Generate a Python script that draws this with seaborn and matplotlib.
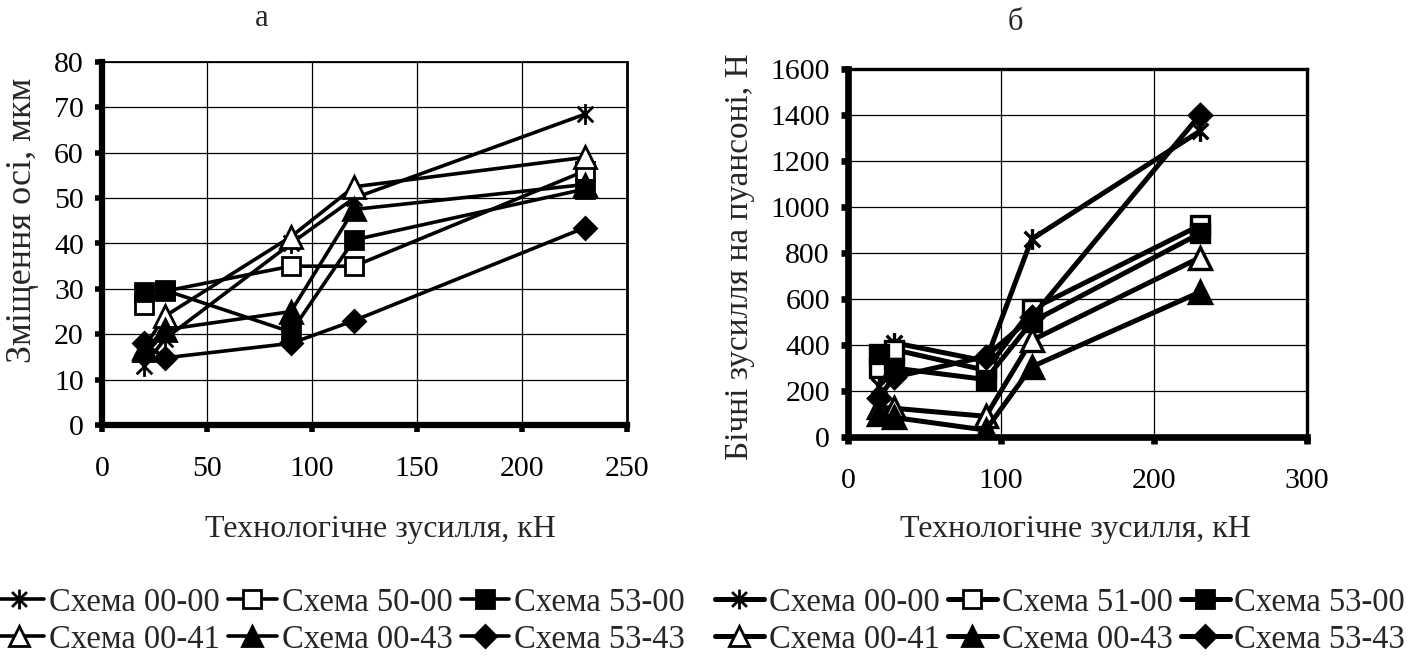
import matplotlib
matplotlib.use("Agg")
import matplotlib.pyplot as plt
import seaborn as sns
import numpy as np
from matplotlib.path import Path
from matplotlib.lines import Line2D

# ---------------- data ----------------
force_kn = [20, 30, 90, 120, 230]

labels_a = ["Схема 00-00", "Схема 50-00", "Схема 53-00",
            "Схема 00-41", "Схема 00-43", "Схема 53-43"]
labels_b = ["Схема 00-00", "Схема 51-00", "Схема 53-00",
            "Схема 00-41", "Схема 00-43", "Схема 53-43"]

# panel a: displacement of axis, um
a_00_00 = [13, 19, 40, 50, 68.5]
a_50_00 = [26.5, 29.5, 35, 35, 56]
a_53_00 = [29.3, 29.7, 20.5, 40.8, 52]
a_00_41 = [17, 24, 41.5, 52.5, 59]
a_00_43 = [16.5, 21, 25, 47.5, 53]
a_53_43 = [18, 14.8, 18, 23, 43.5]

# panel b: lateral forces on punch, N
b_00_00 = [220, 410, 330, 860, 1330]
b_51_00 = [300, 380, 290, 555, 920]
b_53_00 = [360, 300, 250, 500, 885]
b_00_41 = [130, 125, 90, 420, 780]
b_00_43 = [100, 85, 30, 305, 630]
b_53_43 = [170, 260, 350, 520, 1400]

xticks_a = [0, 50, 100, 150, 200, 250]
yticks_a = [0, 10, 20, 30, 40, 50, 60, 70, 80]
xticks_b = [0, 100, 200, 300]
yticks_b = [0, 200, 400, 600, 800, 1000, 1200, 1400, 1600]

title_a = "а"
title_b = "б"
xlabel = "Технологічне зусилля, кН"
ylabel_a = "Зміщення осі, мкм"
ylabel_b = "Бічні зусилля на пуансоні, Н"

# ---------------- style ----------------
sns.set_theme(style="white")
plt.rcParams['font.family'] = ['Liberation Serif', 'DejaVu Serif']

star = Path([(0, -1), (0, 1), (-0.75, -0.75), (0.75, 0.75), (-0.75, 0.75), (0.75, -0.75)],
            [Path.MOVETO, Path.LINETO, Path.MOVETO, Path.LINETO, Path.MOVETO, Path.LINETO])

styles = [
    dict(marker=star, mfc='black', ms=15),
    dict(marker='s', mfc='white', ms=13.5),
    dict(marker='s', mfc='black', ms=13.5),
    dict(marker='^', mfc='white', ms=15.5),
    dict(marker='^', mfc='black', ms=15.5),
    dict(marker='D', mfc='black', ms=11.5),
]

fig = plt.figure(figsize=(14.17, 6.58), dpi=100)
W, H = 1417, 658

def axes_px(x0, y0, x1, y1):
    return fig.add_axes([x0 / W, 1 - y1 / H, (x1 - x0) / W, (y1 - y0) / H])

ax_a = axes_px(102, 62, 627, 425)
ax_b = axes_px(848, 69, 1307, 437)

series_a = [a_00_00, a_50_00, a_53_00, a_00_41, a_00_43, a_53_43]
series_b = [b_00_00, b_51_00, b_53_00, b_00_41, b_00_43, b_53_43]

def draw(ax, series, lw, mew):
    for vals, st in zip(series, styles):
        sns.lineplot(x=force_kn, y=vals, ax=ax, color='black', linewidth=lw,
                     marker=st['marker'], markersize=st['ms'],
                     markerfacecolor=st['mfc'], markeredgecolor='black',
                     markeredgewidth=mew, legend=False, zorder=3)

draw(ax_a, series_a, 2.6, 2.0)
draw(ax_b, series_b, 3.6, 2.4)

ax_a.set_xlim(0, 250)
ax_a.set_ylim(0, 80)
ax_a.set_xticks(xticks_a)
ax_a.set_yticks(yticks_a)
ax_b.set_xlim(0, 300)
ax_b.set_ylim(0, 1600)
ax_b.set_xticks(xticks_b)
ax_b.set_yticks(yticks_b)

for ax, thick, thin, tickw in [(ax_a, 4.5, 1.3, 4.0), (ax_b, 4.8, 2.4, 4.8)]:
    ax.grid(True, color='black', linewidth=0.9)
    ax.set_axisbelow(True)
    ax.spines['left'].set_linewidth(thick)
    ax.spines['bottom'].set_linewidth(thick)
    ax.spines['top'].set_linewidth(thin)
    ax.spines['right'].set_linewidth(thin if ax is ax_b else 2.0)
    for s in ax.spines.values():
        s.set_color('black')
    ax.tick_params(axis='both', which='major', direction='out', length=5,
                   width=tickw, color='black', labelsize=21.5, labelcolor='black',
                   left=True, bottom=True)
    ax.tick_params(axis='y', pad=8)
    ax.tick_params(axis='x', pad=17)
    ax.set_xlabel("")
    ax.set_ylabel("")

fig.text(262 / W, 1 - 18 / H, title_a, ha='center', va='center', fontsize=22)
fig.text(1015 / W, 1 - 22 / H, title_b, ha='center', va='center', fontsize=22)
fig.text(380 / W, 1 - 530 / H, xlabel, ha='center', va='center', fontsize=23)
fig.text(1075 / W, 1 - 530 / H, xlabel, ha='center', va='center', fontsize=23)
fig.text(23 / W, 1 - 220 / H, ylabel_a, ha='center', va='center', rotation=90, fontsize=26)
fig.text(740 / W, 1 - 257 / H, ylabel_b, ha='center', va='center', rotation=90, fontsize=24)

def make_handles(lw):
    hs = []
    for st in styles:
        hs.append(Line2D([0], [0], color='black', linewidth=lw, marker=st['marker'],
                         markersize=st['ms'] * 0.95, markerfacecolor=st['mfc'],
                         markeredgecolor='black', markeredgewidth=2.0))
    return hs

order = [0, 3, 1, 4, 2, 5]
for labels, cx, lw in [(labels_a, 340, 2.6), (labels_b, 1060, 3.6)]:
    hs = make_handles(lw)
    fig.legend([hs[i] for i in order], [labels[i] for i in order], ncol=3,
               loc='center', bbox_to_anchor=(cx / W, 1 - 621 / H), frameon=False,
               fontsize=23.5, handlelength=1.5, handletextpad=0.15,
               columnspacing=0.25, labelspacing=0.2, borderpad=0)

fig.savefig("out.png", dpi=100)
